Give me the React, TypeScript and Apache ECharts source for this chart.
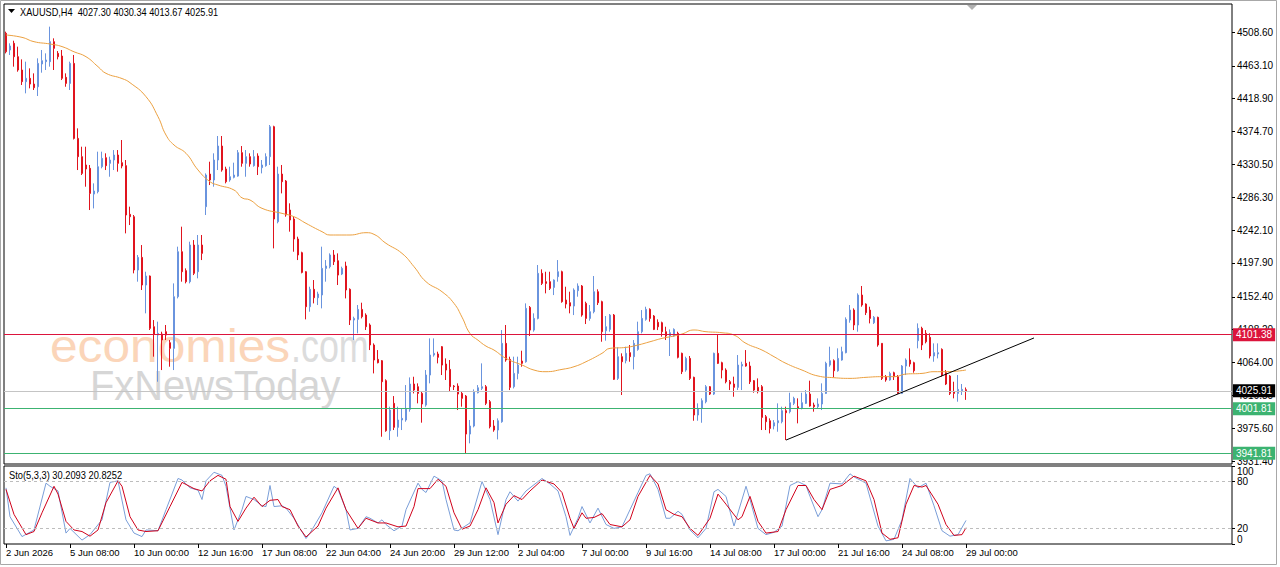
import React, { useEffect, useRef } from 'react';
import * as echarts from 'echarts';

const FONT = '"Liberation Sans", Arial, sans-serif';

const symbolTitle = 'XAUUSD,H4  4027.30 4030.34 4013.67 4025.91';
const stochTitle = 'Sto(5,3,3) 30.2093 20.8252';

const opens = [
  4506.9, 4484.4, 4493.4, 4475.4, 4457.5, 4441.8, 4446.3, 4438.6, 4435.0, 4465.6,
  4468.7, 4468.7, 4495.6, 4479.9, 4476.3, 4447.6, 4439.5, 4466.4, 4365.5, 4340.9,
  4329.7, 4325.2, 4290.6, 4293.8, 4327.4, 4339.5, 4331.9, 4336.4, 4343.1, 4332.8,
  4328.8, 4263.3, 4260.1, 4188.4, 4205.4, 4168.2, 4180.3, 4112.1, 4100.9, 4102.3,
  4105.4, 4090.6, 4083.0, 4152.5, 4213.0, 4187.5, 4172.7, 4222.0, 4186.1, 4222.0,
  4273.6, 4317.5, 4309.5, 4336.4, 4355.2, 4324.3, 4309.5, 4313.1, 4314.8, 4346.3,
  4331.9, 4340.9, 4328.8, 4341.8, 4326.1, 4328.8, 4340.9, 4381.2, 4253.4, 4317.5,
  4308.1, 4269.1, 4257.0, 4230.1, 4211.7, 4186.1, 4139.0, 4162.4, 4151.1, 4154.8,
  4190.6, 4192.9, 4208.6, 4200.9, 4183.0, 4193.8, 4162.4, 4121.1, 4122.0, 4135.4,
  4127.8, 4114.4, 4087.5, 4068.2, 4066.4, 4039.5, 3972.2, 4009.0, 3976.7, 3986.6,
  3986.6, 4000.9, 4035.0, 4031.4, 4022.4, 4006.7, 4047.1, 4074.0, 4075.4, 4085.2,
  4061.9, 4054.7, 4032.3, 4032.3, 4022.4, 4018.8, 3967.7, 3978.5, 4023.3, 4029.2,
  4031.4, 4011.2, 3978.5, 3973.1, 3984.3, 4089.7, 4068.2, 4031.4, 4049.3, 4065.9,
  4065.0, 4138.1, 4107.6, 4123.3, 4183.9, 4172.7, 4172.7, 4165.0, 4179.4, 4186.1,
  4148.0, 4144.4, 4139.9, 4160.6, 4166.9, 4143.5, 4123.3, 4132.3, 4159.2, 4145.8,
  4106.7, 4108.5, 4127.8, 4042.6, 4071.8, 4066.4, 4077.2, 4071.8, 4081.6, 4105.4,
  4122.0, 4135.5, 4126.5, 4118.0, 4117.5, 4105.4, 4099.6, 4099.6, 4103.2, 4076.3,
  4053.8, 4069.5, 4044.0, 3993.3, 4002.2, 4011.2, 4031.4, 4021.5, 4076.3, 4063.7,
  4053.8, 4038.1, 4035.0, 4030.5, 4059.2, 4062.8, 4059.2, 4039.5, 4030.5, 4031.4,
  3991.0, 3985.6, 3978.5, 3982.9, 3984.3, 3999.1, 3997.8, 4009.0, 4004.5, 4002.2,
  4009.0, 4021.5, 4006.7, 4004.5, 4008.1, 4022.4, 4060.5, 4066.4, 4052.9, 4067.3,
  4077.2, 4121.1, 4134.5, 4114.4, 4154.7, 4142.6, 4134.5, 4117.5, 4124.7, 4089.7,
  4044.9, 4040.4, 4050.2, 4044.9, 4022.4, 4059.2, 4067.3, 4063.7, 4093.3, 4109.9,
  4103.2, 4097.8, 4072.7, 4075.4, 4081.6, 4050.2, 4045.8, 4024.7, 4022.4, 4026.0,
  4027.3,
];

const closes = [
  4482.1, 4489.8, 4475.4, 4457.5, 4441.8, 4446.3, 4438.6, 4433.7, 4466.4, 4470.0,
  4470.9, 4495.6, 4486.6, 4475.4, 4446.3, 4439.5, 4466.4, 4365.5, 4340.9, 4318.4,
  4324.3, 4291.5, 4294.7, 4327.4, 4338.6, 4328.8, 4336.4, 4343.1, 4331.9, 4328.3,
  4262.4, 4260.1, 4188.4, 4205.4, 4168.2, 4180.3, 4109.9, 4102.3, 4103.2, 4094.2,
  4100.9, 4083.0, 4152.5, 4213.0, 4186.1, 4172.7, 4222.0, 4183.9, 4222.0, 4210.8,
  4316.2, 4309.5, 4336.4, 4355.2, 4322.9, 4307.2, 4313.9, 4316.2, 4346.3, 4331.9,
  4340.9, 4331.0, 4340.9, 4327.4, 4329.7, 4340.9, 4381.2, 4257.0, 4317.5, 4307.2,
  4262.4, 4255.7, 4230.1, 4208.6, 4185.2, 4139.0, 4162.4, 4151.1, 4156.1, 4190.6,
  4193.8, 4208.6, 4199.6, 4181.6, 4190.6, 4161.5, 4121.1, 4123.3, 4135.4, 4125.6,
  4112.1, 4087.5, 4067.3, 4063.7, 4038.1, 3972.2, 4000.0, 3976.7, 3986.6, 3988.8,
  4002.2, 4035.0, 4026.9, 4022.4, 4008.1, 4047.1, 4074.0, 4076.3, 4070.9, 4060.5,
  4053.8, 4031.4, 4031.4, 4021.5, 4015.7, 3967.7, 3978.5, 4024.7, 4030.0, 4031.4,
  4009.0, 3977.6, 3973.1, 3985.6, 4089.7, 4067.3, 4030.5, 4049.3, 4060.5, 4062.8,
  4136.8, 4107.6, 4123.3, 4183.9, 4170.4, 4170.4, 4163.7, 4174.9, 4186.1, 4145.8,
  4142.6, 4139.9, 4161.5, 4166.9, 4127.8, 4123.3, 4132.3, 4159.2, 4144.4, 4105.4,
  4112.1, 4127.8, 4041.3, 4071.8, 4065.0, 4076.3, 4071.8, 4089.7, 4105.4, 4123.3,
  4135.5, 4123.3, 4108.5, 4112.0, 4105.4, 4099.6, 4104.1, 4108.5, 4070.9, 4051.6,
  4069.5, 4042.6, 3993.3, 4002.2, 4012.6, 4031.4, 4021.5, 4076.3, 4062.8, 4053.8,
  4038.1, 4035.0, 4030.5, 4060.5, 4061.4, 4059.2, 4038.1, 4026.9, 4024.7, 3990.1,
  3984.3, 3975.3, 3982.9, 3985.6, 3999.1, 3996.4, 4009.9, 4015.7, 4002.2, 4009.9,
  4021.5, 4005.4, 4004.5, 4008.1, 4022.4, 4062.8, 4066.4, 4052.9, 4069.5, 4078.5,
  4122.0, 4134.5, 4114.4, 4154.7, 4141.3, 4131.0, 4123.3, 4124.7, 4087.5, 4042.6,
  4040.4, 4049.3, 4044.9, 4022.4, 4059.2, 4067.3, 4061.9, 4052.9, 4109.9, 4087.5,
  4091.9, 4072.7, 4077.2, 4077.2, 4047.1, 4035.0, 4022.4, 4022.4, 4027.8, 4027.8,
  4025.91,
];

const highs = [
  4509.1, 4493.4, 4496.9, 4488.9, 4471.8, 4468.7, 4459.7, 4453.0, 4473.2, 4484.4,
  4479.9, 4515.8, 4500.1, 4483.0, 4484.4, 4453.0, 4468.7, 4477.7, 4379.0, 4354.3,
  4354.3, 4329.7, 4305.0, 4347.6, 4347.6, 4345.4, 4340.9, 4349.8, 4349.8, 4363.3,
  4336.4, 4273.6, 4262.4, 4208.6, 4222.0, 4186.1, 4181.0, 4121.1, 4118.9, 4105.4,
  4114.4, 4094.2, 4170.4, 4219.8, 4246.7, 4190.6, 4226.5, 4228.7, 4235.5, 4235.5,
  4318.4, 4334.1, 4345.4, 4368.7, 4368.7, 4327.4, 4327.4, 4332.8, 4349.8, 4355.2,
  4349.8, 4345.4, 4349.8, 4345.4, 4336.4, 4345.4, 4383.5, 4382.5, 4327.4, 4329.7,
  4309.5, 4278.1, 4260.1, 4233.2, 4213.0, 4186.8, 4165.9, 4174.9, 4159.2, 4219.8,
  4201.8, 4210.8, 4215.3, 4210.8, 4192.9, 4199.6, 4163.7, 4125.6, 4141.3, 4144.4,
  4130.1, 4116.6, 4089.7, 4080.7, 4067.3, 4041.3, 4004.5, 4018.8, 4004.5, 4002.2,
  4033.6, 4043.9, 4044.8, 4035.9, 4024.7, 4053.8, 4096.4, 4096.4, 4078.5, 4086.1,
  4069.5, 4067.3, 4033.6, 4035.9, 4024.7, 4020.2, 3986.6, 4027.8, 4033.6, 4062.8,
  4033.6, 4013.5, 3986.5, 3988.8, 4107.6, 4114.4, 4071.8, 4071.8, 4071.8, 4079.8,
  4143.5, 4139.9, 4130.1, 4195.1, 4189.3, 4186.1, 4186.1, 4175.8, 4201.8, 4187.5,
  4165.9, 4159.2, 4163.7, 4170.4, 4168.2, 4145.8, 4141.3, 4180.3, 4162.4, 4147.1,
  4126.5, 4129.2, 4129.2, 4084.3, 4076.3, 4085.2, 4087.5, 4094.2, 4118.9, 4134.5,
  4139.0, 4136.8, 4127.8, 4122.0, 4118.9, 4112.1, 4108.5, 4109.9, 4105.4, 4077.2,
  4071.8, 4072.7, 4044.9, 4009.0, 4015.7, 4033.6, 4032.3, 4077.2, 4100.9, 4065.0,
  4056.1, 4040.4, 4044.9, 4074.0, 4065.0, 4080.7, 4065.0, 4040.4, 4042.6, 4033.6,
  3993.3, 3988.8, 3986.5, 4009.0, 4004.5, 4004.5, 4023.3, 4017.9, 4015.7, 4023.3,
  4026.9, 4039.5, 4009.9, 4015.7, 4035.9, 4065.0, 4085.2, 4068.2, 4083.0, 4085.2,
  4124.7, 4141.3, 4136.8, 4157.0, 4166.9, 4143.5, 4139.0, 4126.5, 4125.6, 4089.7,
  4047.1, 4051.6, 4051.6, 4047.1, 4060.5, 4069.5, 4083.0, 4065.0, 4116.6, 4112.1,
  4107.6, 4103.2, 4089.7, 4089.7, 4083.0, 4053.8, 4047.1, 4038.1, 4047.1, 4035.0,
  4030.34,
];

const lows = [
  4479.9, 4477.7, 4462.0, 4455.2, 4437.3, 4426.1, 4432.8, 4430.6, 4422.5, 4453.9,
  4457.5, 4462.0, 4457.5, 4471.8, 4444.0, 4435.0, 4430.6, 4364.0, 4322.9, 4316.2,
  4300.5, 4269.1, 4271.3, 4291.5, 4325.2, 4322.9, 4313.9, 4322.9, 4320.7, 4325.2,
  4237.7, 4248.9, 4183.9, 4172.7, 4161.5, 4130.1, 4107.7, 4071.8, 4038.1, 4053.8,
  4094.2, 4058.3, 4053.8, 4150.2, 4172.7, 4170.4, 4170.4, 4181.6, 4177.2, 4201.8,
  4262.4, 4302.7, 4300.5, 4322.9, 4320.7, 4305.0, 4307.2, 4311.7, 4313.9, 4327.4,
  4313.9, 4327.4, 4327.4, 4316.2, 4318.4, 4327.4, 4329.7, 4217.5, 4251.2, 4291.5,
  4260.1, 4240.0, 4213.0, 4201.8, 4183.9, 4122.0, 4132.3, 4143.5, 4141.3, 4136.8,
  4172.7, 4190.6, 4195.1, 4168.2, 4181.6, 4150.2, 4114.4, 4094.2, 4103.2, 4123.3,
  4107.7, 4080.7, 4049.3, 4062.8, 3964.1, 3970.8, 3959.6, 3973.1, 3964.1, 3973.1,
  3984.3, 3997.8, 4022.4, 4009.0, 3983.0, 4004.5, 4035.9, 4071.8, 4062.8, 4047.1,
  4040.4, 4024.7, 4026.9, 4000.0, 4004.5, 3941.7, 3955.2, 3976.7, 4022.4, 4026.9,
  4006.7, 3975.3, 3970.8, 3960.5, 3982.9, 4065.0, 4026.9, 4029.1, 4041.3, 4058.3,
  4063.7, 4099.6, 4105.4, 4122.0, 4168.2, 4157.0, 4161.5, 4154.7, 4172.7, 4144.4,
  4136.8, 4130.1, 4127.8, 4152.5, 4125.6, 4115.7, 4120.2, 4130.1, 4141.3, 4091.9,
  4093.3, 4105.4, 4040.4, 4040.4, 4020.2, 4062.8, 4065.0, 4054.7, 4079.8, 4103.2,
  4120.2, 4118.9, 4107.6, 4107.6, 4098.7, 4094.2, 4072.7, 4098.7, 4069.5, 4048.4,
  4051.6, 4040.4, 3985.6, 3985.6, 3982.9, 4009.0, 4020.2, 4020.2, 4061.9, 4042.6,
  4035.9, 4026.9, 4017.9, 4026.9, 4026.9, 4058.3, 4035.0, 4023.3, 4022.4, 3973.1,
  3973.1, 3968.6, 3974.0, 3970.8, 3982.1, 3959.6, 3995.5, 4006.7, 3982.1, 4000.9,
  4008.1, 4004.5, 3997.8, 4002.2, 4000.0, 4021.5, 4058.3, 4044.0, 4051.6, 4066.4,
  4076.3, 4117.5, 4107.6, 4105.4, 4139.0, 4127.8, 4116.6, 4115.7, 4085.2, 4040.4,
  4038.1, 4039.5, 4040.4, 4021.5, 4021.5, 4047.1, 4058.3, 4050.2, 4083.0, 4080.7,
  4089.7, 4069.5, 4065.0, 4069.5, 4044.9, 4033.6, 4020.2, 4015.7, 4011.2, 4020.2,
  4013.67,
];

// Moving average: [bar index, price]
const maPoints = [
  [0, 4504.6], [4, 4501.4], [7, 4495.6], [11, 4492.5], [14, 4489.0], [17, 4482.0],
  [20, 4475.4], [23, 4462.0], [25, 4453.0], [29, 4446.0], [31, 4440.4], [35, 4421.6],
  [38, 4394.7], [40, 4370.0], [42, 4356.6], [45, 4345.4], [48, 4323.0], [51, 4307.2],
  [53, 4302.7], [57, 4296.0], [59, 4285.5], [61, 4282.6], [64, 4271.4], [69, 4264.6],
  [72, 4260.1], [75, 4251.2], [79, 4240.0], [81, 4235.5], [86, 4235.5], [90, 4238.6],
  [92, 4236.4], [95, 4224.3], [99, 4210.8], [102, 4192.9], [105, 4172.7], [109, 4159.2],
  [112, 4143.5], [114, 4125.0], [116, 4103.0], [118, 4094.0], [120, 4086.0], [122, 4080.7],
  [125, 4069.5], [129, 4060.6], [132, 4053.8], [135, 4051.6], [139, 4054.7], [142, 4058.3],
  [145, 4065.0], [149, 4076.3], [151, 4083.0], [155, 4084.3], [158, 4087.5], [161, 4091.9],
  [164, 4096.4], [167, 4099.6], [169, 4102.3], [172, 4107.7], [175, 4105.4], [179, 4104.0],
  [182, 4100.9], [185, 4089.7], [189, 4080.7], [192, 4071.8], [195, 4062.8], [199, 4053.8],
  [203, 4045.8], [207, 4043.5], [211, 4042.6], [215, 4044.0], [219, 4044.9], [222, 4044.9],
  [225, 4048.4], [229, 4049.3], [232, 4051.6], [235, 4051.6], [240, 4053.8],
];

const trendLine = [[195, 3959.6], [257, 4097.0]];

// Stochastic %K (blue) and %D (red): [bar index, value]
const stochK = [
  [0, 72], [1, 35], [4, 9.5], [7, 18], [10, 78], [11, 74], [13, 68], [15, 14], [16, 20],
  [19, 5], [21, 12], [24, 31], [26, 79], [28, 81], [30, 31], [32, 14], [34, 9.5], [35, 18],
  [38, 17], [40, 44], [43, 84], [44, 82], [46, 72], [48, 69], [49, 57], [50, 81], [52, 92],
  [54, 88], [55, 74], [57, 18], [59, 44], [60, 61], [62, 57], [64, 49], [65, 48], [66, 75],
  [67, 48], [69, 49], [70, 46], [72, 33], [75, 7], [76, 14], [79, 40], [82, 74], [83, 70],
  [85, 44], [86, 18], [88, 20], [90, 35], [91, 33], [93, 27], [94, 31], [95, 25], [97, 17],
  [99, 23], [100, 44], [103, 78], [104, 70], [105, 66], [107, 87], [109, 81], [110, 57],
  [112, 18], [113, 17], [116, 27], [119, 80], [121, 57], [123, 12], [125, 57], [126, 67],
  [128, 55], [130, 68], [133, 80], [134, 84], [136, 77], [138, 68], [140, 35], [141, 11],
  [143, 33], [144, 48], [146, 27], [148, 46], [150, 25], [152, 20], [154, 22], [156, 44],
  [158, 66], [160, 88], [161, 90], [163, 70], [165, 33], [166, 33], [168, 42], [169, 38],
  [171, 18], [173, 8], [175, 20], [177, 67], [178, 70], [180, 61], [182, 23], [185, 74],
  [186, 57], [188, 20], [190, 12], [192, 15], [194, 23], [196, 75], [198, 80], [200, 75],
  [201, 61], [203, 35], [204, 44], [206, 78], [209, 77], [211, 90], [212, 86], [215, 78],
  [218, 23], [220, 4], [222, 6], [224, 31], [226, 84], [228, 72], [230, 78], [232, 49],
  [234, 17], [236, 10], [238, 12], [240, 30.21],
];

const stochD = [
  [0, 70], [2, 38], [5, 12], [7, 16], [9, 40], [12, 74], [13, 64], [15, 29], [17, 18],
  [19, 16], [21, 10], [23, 18], [25, 53], [28, 81], [29, 74], [31, 35], [33, 18], [35, 16],
  [38, 17], [41, 48], [44, 79], [47, 71], [49, 68], [51, 81], [53, 88], [55, 83], [56, 48],
  [58, 29], [60, 46], [62, 60], [64, 48], [66, 56], [68, 57], [69, 48], [71, 44], [73, 23],
  [75, 9], [78, 23], [80, 46], [83, 72], [85, 44], [88, 20], [90, 33], [93, 27], [95, 27],
  [98, 22], [100, 23], [102, 48], [103, 71], [106, 71], [108, 83], [110, 74], [112, 40],
  [114, 19], [116, 23], [118, 44], [120, 72], [122, 53], [123, 27], [125, 51], [127, 62],
  [129, 57], [131, 68], [134, 82], [137, 77], [139, 66], [141, 33], [142, 20], [144, 40],
  [145, 33], [147, 34], [149, 39], [151, 25], [154, 22], [156, 31], [158, 61], [161, 88],
  [163, 77], [165, 44], [167, 38], [169, 35], [171, 20], [173, 11], [176, 33], [178, 64],
  [180, 51], [183, 31], [184, 35], [186, 61], [188, 29], [190, 14], [193, 16], [195, 44],
  [198, 75], [200, 75], [202, 57], [204, 44], [206, 70], [209, 75], [212, 87], [215, 81],
  [217, 57], [219, 14], [221, 6], [223, 8], [225, 51], [227, 75], [229, 73], [230, 75],
  [233, 51], [235, 25], [237, 11], [239, 12], [240, 20.83],
];

const priceTicks = [
  4508.6, 4463.1, 4418.9, 4374.7, 4330.5, 4286.3, 4242.1, 4197.9, 4152.4, 4108.2,
  4064.0, 4019.8, 3975.6, 3931.4,
];
const stochTicks = [0, 20, 80, 100];
const stochLevels = [20, 80];

const xTickLabels = [
  '2 Jun 2026', '5 Jun 08:00', '10 Jun 00:00', '12 Jun 16:00', '17 Jun 08:00',
  '22 Jun 04:00', '24 Jun 20:00', '29 Jun 12:00', '2 Jul 04:00', '7 Jul 00:00',
  '9 Jul 16:00', '14 Jul 08:00', '17 Jul 00:00', '21 Jul 16:00', '24 Jul 08:00',
  '29 Jul 00:00',
];
const barsPerLabel = 16;
const totalSlots = 307;

const levels = [
  { value: 4101.38, line: '#DC143C', box: '#DC143C' },
  { value: 4025.91, line: '#C4C4C4', box: '#000000' },
  { value: 4001.81, line: '#3CB371', box: '#3CB371' },
  { value: 3941.81, line: '#3CB371', box: '#3CB371' },
];

const BULL = '#6A94DE';
const BEAR = '#E0141E';

export default function App() {
  const ref = useRef<HTMLDivElement>(null);

  useEffect(() => {
    if (!ref.current) return;
    const chart = echarts.init(ref.current, null, { renderer: 'svg' });

    const categories = Array.from({ length: totalSlots }, (_, i) => String(i));
    const showTick = (idx: number) => idx % barsPerLabel === 0 && idx / barsPerLabel < xTickLabels.length;
    const candleData = opens.map((o, i) => [o, closes[i], lows[i], highs[i]]);

    const option: any = {
      animation: false,
      backgroundColor: '#ffffff',
      textStyle: { fontFamily: FONT },
      grid: [
        { left: 4, top: 4, width: 1228, height: 460, show: true, borderColor: '#000', borderWidth: 1, backgroundColor: 'transparent' },
        { left: 4, top: 466, width: 1228, height: 78, show: true, borderColor: '#000', borderWidth: 1, backgroundColor: 'transparent' },
      ],
      xAxis: [
        {
          type: 'category', gridIndex: 0, data: categories, boundaryGap: true,
          axisLine: { show: false }, axisTick: { show: false }, axisLabel: { show: false }, splitLine: { show: false },
        },
        {
          type: 'category', gridIndex: 1, data: categories, boundaryGap: true,
          axisLine: { show: false },
          axisTick: { show: true, alignWithLabel: true, interval: showTick, length: 4, lineStyle: { color: '#000' } },
          axisLabel: {
            show: true, interval: showTick, align: 'left', margin: 3, fontSize: 9.5, color: '#000', fontFamily: FONT,
            formatter: (_v: string, idx: number) => (showTick(idx) ? xTickLabels[idx / barsPerLabel] : ''),
          },
          splitLine: { show: false },
        },
      ],
      yAxis: [
        {
          type: 'value', gridIndex: 0, position: 'right', min: 3927.4, max: 4546.3, scale: true,
          axisLine: { show: false }, splitLine: { show: false },
          axisTick: { show: true, length: 3, lineStyle: { color: '#000' }, customValues: priceTicks },
          axisLabel: {
            show: true, customValues: priceTicks, margin: 5, fontSize: 10, color: '#000', fontFamily: FONT,
            formatter: (v: number) => v.toFixed(2),
          },
        },
        {
          type: 'value', gridIndex: 1, position: 'right', min: 0, max: 100,
          axisLine: { show: false }, splitLine: { show: false },
          axisTick: { show: true, length: 3, lineStyle: { color: '#000' }, customValues: stochTicks },
          axisLabel: {
            show: true, customValues: stochTicks, margin: 5, fontSize: 10, color: '#000', fontFamily: FONT,
            verticalAlignMinLabel: 'bottom', verticalAlignMaxLabel: 'top',
            formatter: (v: number) => String(v),
          },
        },
      ],
      series: [
        {
          type: 'candlestick', xAxisIndex: 0, yAxisIndex: 0, data: candleData, barWidth: 2,
          itemStyle: { color: BULL, color0: BEAR, borderColor: BULL, borderColor0: BEAR, borderWidth: 1 },
          z: 3,
          markLine: {
            silent: true, symbol: ['none', 'none'], animation: false,
            data: levels.map((lv) => ({
              yAxis: lv.value,
              lineStyle: { color: lv.line, width: 1, type: 'solid' },
              label: {
                show: true, position: 'end', distance: 1, formatter: lv.value.toFixed(2),
                backgroundColor: lv.box, color: '#fff', fontSize: 10, fontFamily: FONT, padding: [2, 3, 1, 3],
              },
            })),
          },
        },
        {
          type: 'line', xAxisIndex: 0, yAxisIndex: 0, data: maPoints, showSymbol: false, smooth: true,
          lineStyle: { color: '#EBA040', width: 1 }, z: 4,
        },
        {
          type: 'line', xAxisIndex: 0, yAxisIndex: 0, data: trendLine, showSymbol: false,
          lineStyle: { color: '#000', width: 1 }, z: 5,
        },
        {
          type: 'line', xAxisIndex: 1, yAxisIndex: 1, data: stochK, showSymbol: false,
          lineStyle: { color: '#7A9ED8', width: 1 }, z: 3,
          markLine: {
            silent: true, symbol: ['none', 'none'], animation: false,
            lineStyle: { color: '#BDBDBD', width: 1, type: [3, 3] },
            label: { show: false },
            data: stochLevels.map((v) => ({ yAxis: v })),
          },
        },
        {
          type: 'line', xAxisIndex: 1, yAxisIndex: 1, data: stochD, showSymbol: false,
          lineStyle: { color: '#D0021B', width: 1 }, z: 4,
        },
      ],
      graphic: [
        {
          type: 'rect', z: -1, silent: true,
          shape: { x: 0.5, y: 0.5, width: 1276, height: 564 },
          style: { fill: 'none', stroke: '#A8A8A8', lineWidth: 1 },
        },
        {
          type: 'text', x: 50, y: 346, scaleX: 1.08, z: 0, silent: true,
          style: { text: 'economies', font: 'normal 46px "Liberation Sans", Arial, sans-serif', fill: '#FBD5B9', textVerticalAlign: 'middle' },
        },
        {
          type: 'text', x: 291, y: 346, scaleX: 0.78, z: 0, silent: true,
          style: { text: '.com', font: 'normal 46px "Liberation Sans", Arial, sans-serif', fill: '#DCDCDC', textVerticalAlign: 'middle' },
        },
        {
          type: 'text', x: 90, y: 386, scaleX: 0.95, z: 0, silent: true,
          style: { text: 'FxNewsToday', font: 'normal 42px "Liberation Sans", Arial, sans-serif', fill: '#D6D6D6', textVerticalAlign: 'middle' },
        },
        {
          type: 'polygon', z: 10, silent: true,
          shape: { points: [[8, 9], [15, 9], [11.5, 13]] },
          style: { fill: '#000' },
        },
        {
          type: 'text', x: 20, y: 12, scaleX: 0.92, z: 10, silent: true,
          style: { text: symbolTitle, font: 'normal 10px "Liberation Sans", Arial, sans-serif', fill: '#000', textVerticalAlign: 'middle' },
        },
        {
          type: 'text', x: 9, y: 475, scaleX: 0.93, z: 10, silent: true,
          style: { text: stochTitle, font: 'normal 10px "Liberation Sans", Arial, sans-serif', fill: '#000', textVerticalAlign: 'middle' },
        },
        {
          type: 'polygon', z: 10, silent: true,
          shape: { points: [[967, 5], [977, 5], [972, 10]] },
          style: { fill: '#B0B0B0' },
        },
      ],
    };

    chart.setOption(option);
    return () => chart.dispose();
  }, []);

  return (
    <div
      ref={ref}
      style={{ position: 'absolute', left: 0, top: 0, width: 1280, height: 567, background: '#fff' }}
    />
  );
}
